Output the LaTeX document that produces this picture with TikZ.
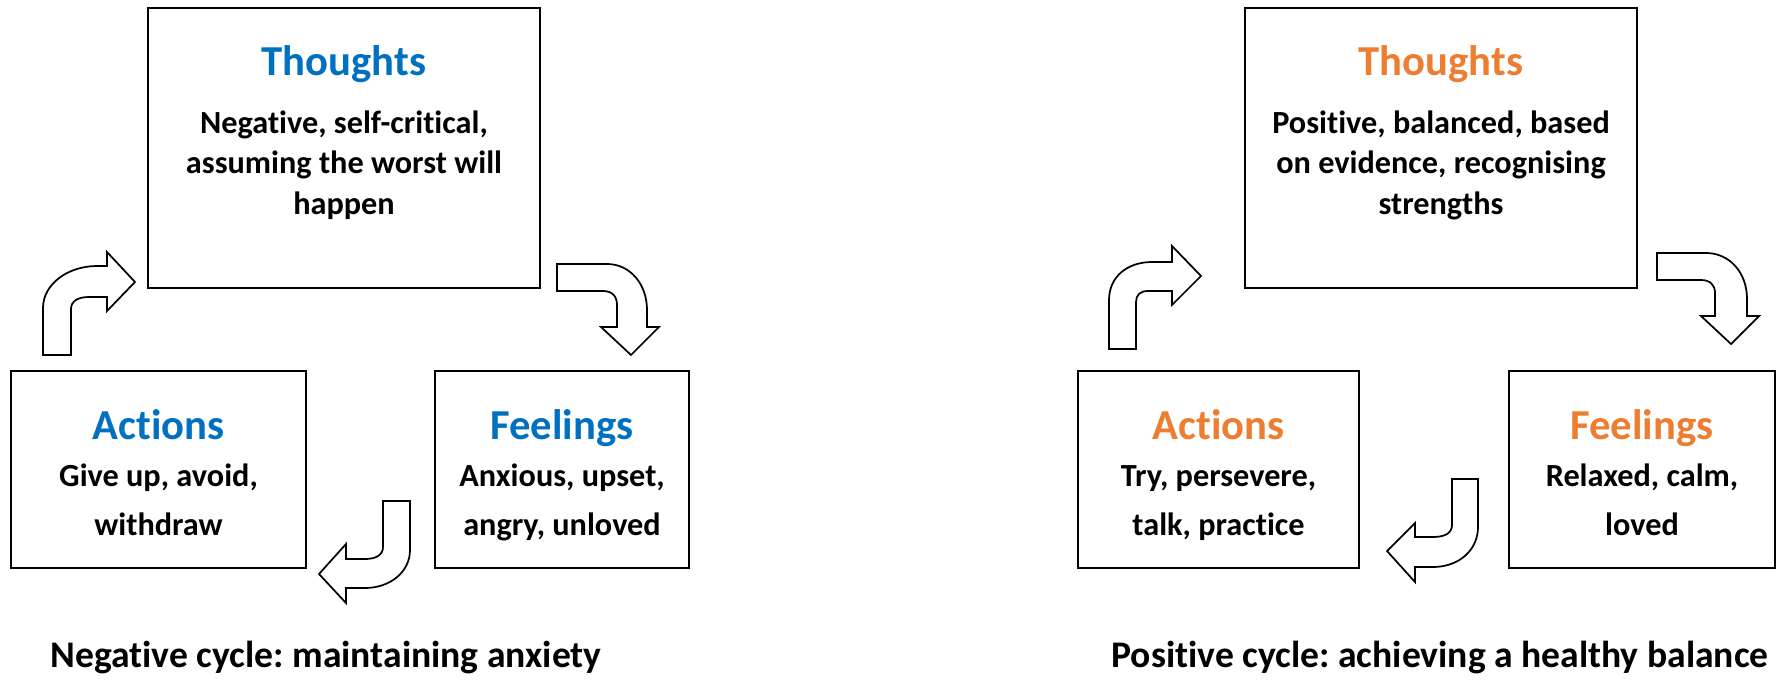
\documentclass[tikz,border=0pt]{standalone}
\usepackage{fontspec}
\setmainfont{Carlito}[Ligatures=CommonOff]
\usetikzlibrary{calc,fit}
\definecolor{cbtblue}{HTML}{0070C0}
\definecolor{cbtorange}{HTML}{ED7D31}
\frenchspacing

\begin{document}
\begin{tikzpicture}[x=0.75pt,y=-0.75pt,
  box/.style={draw=black, line width=1.5pt, fill=white, inner sep=0pt},
  heading/.style={font=\bfseries\fontsize{32}{38}\selectfont, anchor=base, inner sep=0pt},
  body/.style={font=\bfseries\fontsize{24.2}{30}\selectfont, text width=300pt, align=flush center, anchor=base, inner sep=0pt},
  widebody/.style={body, font=\bfseries\fontsize{24.2}{36.75}\selectfont},
  caption/.style={font=\bfseries\fontsize{28.2}{34}\selectfont, anchor=base, inner sep=0pt},
  blockarrow/.style={draw=black, line width=1.3pt, fill=white, line join=miter}]

\useasboundingbox (0,0) rectangle (1776,681);

% ---------- negative cycle ----------
\node[box, fit={(148,8) (540,288)}] (t1) {};
\node[box, fit={(11,371) (306,568)}] (a1) {};
\node[box, fit={(435,371) (689,568)}] (f1) {};

\node[heading, text=cbtblue] (t1h) at ($(t1.north)+(0,69)$) {Thoughts};
\node[body] (t1b) at ($(t1.north)+(0,127)$) {Negative, self-critical,\\assuming the worst will\\happen};
\node[heading, text=cbtblue] (a1h) at ($(a1.north)+(0,69)$) {Actions};
\node[widebody] (a1b) at ($(a1.north)+(0,116)$) {Give up, avoid,\\withdraw};
\node[heading, text=cbtblue] (f1h) at ($(f1.north)+(0,69)$) {Feelings};
\node[widebody] (f1b) at ($(f1.north)+(0,116)$) {Anxious, upset,\\angry, unloved};

% actions -> thoughts
\draw[blockarrow] (43,355) -- (43,308) .. controls (43,284) and (68,266) .. (97,266)
  -- (107,266) -- (107,252) -- (135,282) -- (107,311) -- (107,297) -- (89,297)
  .. controls (78,297) and (71,301) .. (71,309) -- (71,355) -- cycle;
% thoughts -> feelings
\draw[blockarrow] (557,264) -- (607,264) .. controls (630,264) and (647,284) .. (647,310)
  -- (647,327) -- (659,327) -- (631,355) -- (601,327) -- (617,327) -- (617,305)
  .. controls (617,296) and (612,291) .. (603,291) -- (557,291) -- cycle;
% feelings -> actions
\draw[blockarrow] (383,501) -- (410,501) -- (410,550) .. controls (410,572) and (390,588) .. (365,588)
  -- (346,588) -- (346,603) -- (319,574) -- (346,544) -- (346,559) -- (365,559)
  .. controls (376,559) and (383,555) .. (383,547) -- cycle;

\node[caption] (neg) at (326,667) {Negative cycle: maintaining anxiety};

% ---------- positive cycle ----------
\node[box, fit={(1245,8) (1637,288)}] (t2) {};
\node[box, fit={(1078,371) (1359,568)}] (a2) {};
\node[box, fit={(1509,371) (1775,568)}] (f2) {};

\node[heading, text=cbtorange] (t2h) at ($(t2.north)+(0,69)$) {Thoughts};
\node[body] (t2b) at ($(t2.north)+(0,127)$) {Positive, balanced, based\\on evidence, recognising\\strengths};
\node[heading, text=cbtorange] (a2h) at ($(a2.north)+(0,69)$) {Actions};
\node[widebody] (a2b) at ($(a2.north)+(0,116)$) {Try, persevere,\\talk, practice};
\node[heading, text=cbtorange] (f2h) at ($(f2.north)+(0,69)$) {Feelings};
\node[widebody] (f2b) at ($(f2.north)+(0,116)$) {Relaxed, calm,\\loved};

% actions -> thoughts
\draw[blockarrow] (1109,349) -- (1109,300) .. controls (1109,277) and (1127,262) .. (1152,262)
  -- (1172,262) -- (1172,246) -- (1201,276) -- (1172,305) -- (1172,291) -- (1148,291)
  .. controls (1140,291) and (1136,295) .. (1136,302) -- (1136,349) -- cycle;
% thoughts -> feelings
\draw[blockarrow] (1657,253) -- (1706,253) .. controls (1729,253) and (1747,272) .. (1747,299)
  -- (1747,316) -- (1759,316) -- (1731,344) -- (1701,316) -- (1715,316) -- (1715,293)
  .. controls (1715,285) and (1710,280) .. (1701,280) -- (1657,280) -- cycle;
% feelings -> actions
\draw[blockarrow] (1452,479) -- (1478,479) -- (1478,527) .. controls (1478,550) and (1459,567) .. (1433,567)
  -- (1415,567) -- (1415,582) -- (1387,551) -- (1415,523) -- (1415,537) -- (1433,537)
  .. controls (1445,537) and (1452,533) .. (1452,525) -- cycle;

\node[caption] (pos) at (1440,667) {Positive cycle: achieving a healthy balance};
\end{tikzpicture}
\end{document}
